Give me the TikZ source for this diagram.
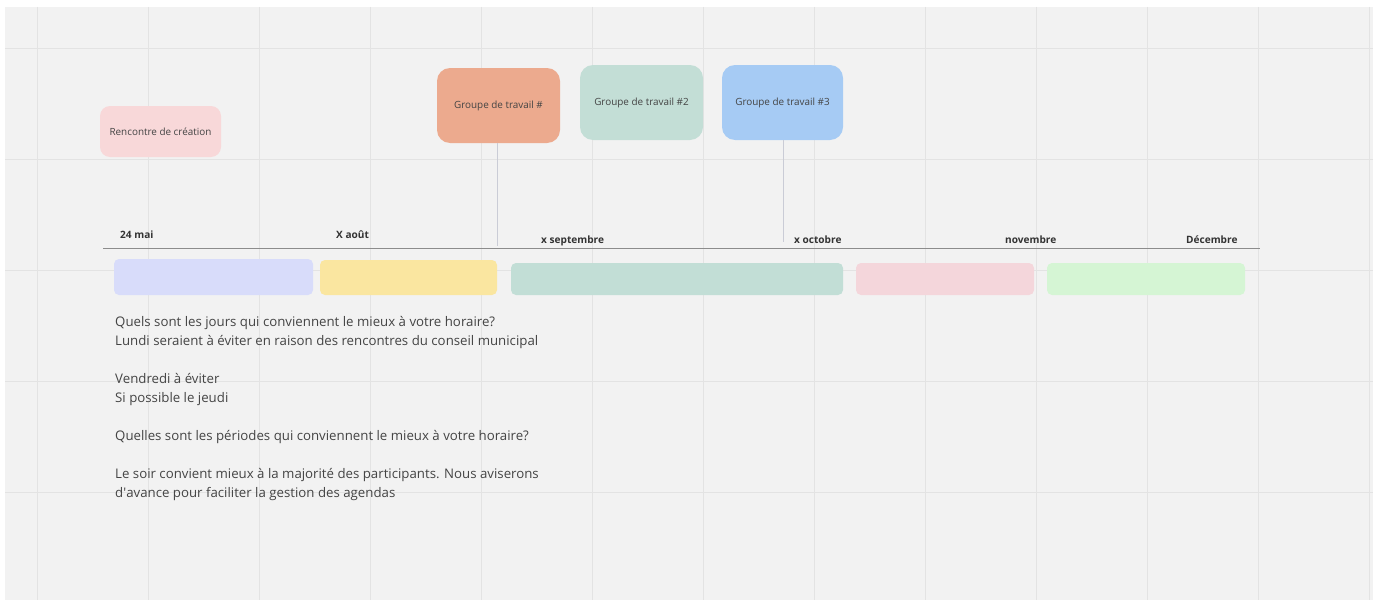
\documentclass[tikz,border=0pt]{standalone}
\usepackage{fontspec}
\setmainfont{Open Sans}
\usetikzlibrary{positioning}

\definecolor{bggray}{HTML}{F2F2F2}
\definecolor{gridgray}{HTML}{E3E3E3}
\definecolor{textgray}{HTML}{444444}
\definecolor{labelgray}{HTML}{333333}
\definecolor{axisgray}{HTML}{8C8C8C}
\definecolor{linkgray}{HTML}{CACCD6}
\definecolor{creationpink}{HTML}{F8D8D9}
\definecolor{gtorange}{HTML}{ECAA8E}
\definecolor{gtteal}{HTML}{C3DED6}
\definecolor{gtblue}{HTML}{A6CBF4}
\definecolor{barlavender}{HTML}{D8DCFA}
\definecolor{baryellow}{HTML}{FAE6A0}
\definecolor{barteal}{HTML}{C2DED6}
\definecolor{barpink}{HTML}{F4D6DB}
\definecolor{bargreen}{HTML}{D5F5D4}

\begin{document}
\begin{tikzpicture}[x=1pt, y=-1pt,
  card/.style={rounded corners=10pt, inner sep=0pt, text=textgray, font=\fontsize{9.9}{12}\selectfont},
  bar/.style={rounded corners=5pt, inner sep=0pt},
  month/.style={anchor=base west, inner sep=0pt, text=labelgray, font=\fontsize{10.1}{12}\selectfont\bfseries},
  link/.style={draw=linkgray, line width=0.8pt}]
\useasboundingbox (0,0) rectangle (1380,602);
% board
\fill[white] (0,0) rectangle (1380,602);
\fill[bggray] (5,7) rectangle (1373,600);
\foreach \x in {37,148,...,1369} \draw[gridgray, line width=0.8pt] (\x,7) -- (\x,600);
\foreach \y in {48,159,...,492} \draw[gridgray, line width=0.8pt] (5,\y) -- (1373,\y);

% cards
\node (creation)[card, fill=creationpink, minimum width=121pt, minimum height=51pt] at (160.5,131.5) {Rencontre de création};
\node (gt1)[card, rounded corners=13pt, fill=gtorange, minimum width=123pt, minimum height=75pt] at (498.5,105.5) {Groupe de travail \#};
\node (gt2)[card, rounded corners=13pt, fill=gtteal, minimum width=123pt, minimum height=75pt] at (641.5,102.5) {Groupe de travail \#2};
\node (gt3)[card, rounded corners=13pt, fill=gtblue, minimum width=121pt, minimum height=75pt] at (782.5,102.5) {Groupe de travail \#3};

% timeline
\coordinate (tlstart) at (103,248);
\coordinate (tlend) at (1260,248);
\draw[axisgray, line width=0.9pt] (tlstart) -- (tlend);
\coordinate (m1) at (497,246);
\coordinate (m3) at (783,242);
\draw[link] (gt1.south -| m1) -- (m1);
\draw[link] (gt3.south -| m3) -- (m3);

% months
\node (mai)[month] at (120,238) {24 mai};
\node (aout)[month] at (336,238) {X août};
\node (sept)[month] at (541,243) {x septembre};
\node (oct)[month] at (794,243) {x octobre};
\node (nov)[month] at (1005,243) {novembre};
\node (dec)[month] at (1186,243) {Décembre};

% periods
\node (b1)[bar, fill=barlavender, minimum width=199pt, minimum height=36pt] at (213.5,277) {};
\node (b2)[bar, fill=baryellow, minimum width=177pt, minimum height=35pt] at (408.5,277.5) {};
\node (b3)[bar, fill=barteal, minimum width=332pt, minimum height=32pt] at (677,279) {};
\node (b4)[bar, fill=barpink, minimum width=178pt, minimum height=32pt] at (945,279) {};
\node (b5)[bar, fill=bargreen, minimum width=198pt, minimum height=32pt] at (1146,279) {};

% notes
\node (notes)[anchor=north west, inner sep=0pt, align=left, text=textgray, font=\fontsize{13.25}{19}\selectfont] at (115,316) {Quels sont les jours qui conviennent le mieux à votre horaire?\\
Lundi seraient à éviter en raison des rencontres du conseil municipal\\[19pt]
Vendredi à éviter\\
Si possible le jeudi\\[19pt]
Quelles sont les périodes qui conviennent le mieux à votre horaire?\\[19pt]
Le soir convient mieux à la majorité des participants. Nous aviserons\\
d\textquotesingle avance pour faciliter la gestion des agendas};
\end{tikzpicture}
\end{document}
